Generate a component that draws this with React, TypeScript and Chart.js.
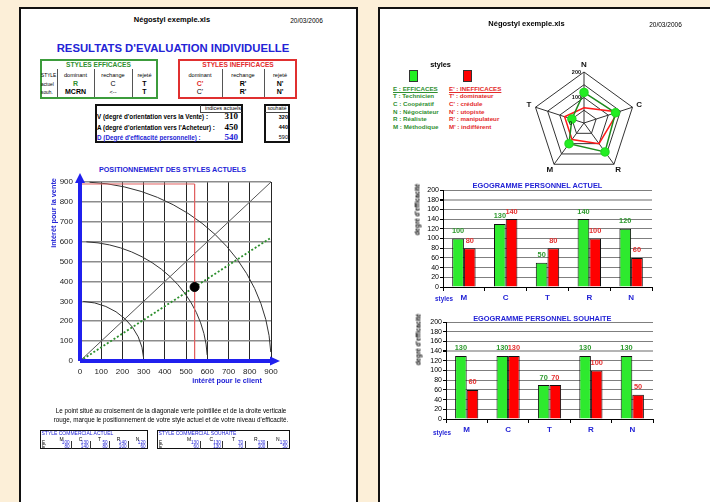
import React, { useEffect, useRef } from 'react';
import { Chart, registerables } from 'chart.js';
Chart.register(...registerables);

const FONT = '"Liberation Sans", Arial, Helvetica, sans-serif';
const SERIF = '"Liberation Serif", "Times New Roman", serif';
const BLUE = '#2323d6';
const AXIS_BLUE = '#2020ee';
const GREEN_TXT = '#2f8f2f';
const RED_TXT = '#e32a2a';
const BAR_GREEN = '#2eea2e';
const BAR_RED = '#ff0000';

// ---------------- data ----------------
const styleCats = ['M', 'C', 'T', 'R', 'N'];
const actuelE = [100, 130, 50, 140, 120];
const actuelEp = [80, 140, 80, 100, 60];
const souhaitE = [130, 130, 70, 130, 130];
const souhaitEp = [60, 130, 70, 100, 50];
const actuelHighlight = 180;
const souhaitHighlight = 140;

const radarLabels = ['N', 'C', 'R', 'M', 'T'];
const radarTickLabels = [0, 100, 200];

const indiceV = 310;
const indiceA = 450;
const indiceD = 540;
const souhaitV = 320;
const souhaitA = 440;
const souhaitD = 590;

const posMin = 0;
const posMax = 900;
const posStep = 100;
const arcRadii = [300, 600, 900];
const redFrameTop = 890;

const tableHeaders = ['dominant', 'rechange', 'rejeté'];
const effActuel = ['R', 'C', 'T'];
const effSouh = ['MCRN', '<--', 'T'];
const ineffActuel = ["C'", "R'", "N'"];
const ineffSouh = ["C'", "R'", "N'"];

const legendE = ['E : EFFICACES', 'T : Technicien', 'C : Coopératif', 'N : Négociateur', 'R : Réaliste', 'M : Méthodique'];
const legendEp = ["E' : INEFFICACES", "T' : dominateur", "C' : crédule", "N' : utopiste", "R' : manipulateur", "M' : indifférent"];

// ---------------- helpers ----------------
type TP = { x: number; y: number; s: number; t: string; w?: any; c?: string; a?: 'left' | 'center' | 'right'; f?: string; u?: boolean };
function Txt({ x, y, s, t, w = 'normal', c = '#000', a = 'left', f = FONT, u = false }: TP) {
  const h = Math.ceil(s * 1.3);
  const style: React.CSSProperties = {
    position: 'absolute', top: y - h / 2, height: h, lineHeight: `${h}px`, fontSize: s, fontFamily: f,
    fontWeight: w, color: c, whiteSpace: 'nowrap', textDecoration: u ? 'underline' : 'none',
  };
  if (a === 'left') style.left = x;
  else if (a === 'right') style.right = 710 - x;
  else { style.left = x - 200; style.width = 400; style.textAlign = 'center'; }
  return <div style={style}>{t}</div>;
}
function VTxt({ x, y, s, t, w = 'bold', c = '#000' }: TP) {
  const h = Math.ceil(s * 1.3);
  return (
    <div style={{
      position: 'absolute', left: x - 100, top: y - h / 2, width: 200, height: h, lineHeight: `${h}px`,
      textAlign: 'center', fontSize: s, fontFamily: FONT, fontWeight: w, color: c, whiteSpace: 'nowrap',
      transform: 'rotate(-90deg)',
    }}>{t}</div>
  );
}
function Rect({ l, t, w, h, b = '0', bg = 'transparent' }: { l: number; t: number; w: number; h: number; b?: string; bg?: string }) {
  return <div style={{ position: 'absolute', left: l, top: t, width: w, height: h, border: b, background: bg, boxSizing: 'border-box' }} />;
}
function VLine({ x, y1, y2, c = '#555' }: { x: number; y1: number; y2: number; c?: string }) {
  return <div style={{ position: 'absolute', left: x, top: y1, width: 1, height: y2 - y1, background: c }} />;
}
function HLine({ y, x1, x2, c = '#555' }: { y: number; x1: number; x2: number; c?: string }) {
  return <div style={{ position: 'absolute', left: x1, top: y, width: x2 - x1, height: 1, background: c }} />;
}

function ChartBox({ left, top, width, height, make }: { left: number; top: number; width: number; height: number; make: () => any }) {
  const ref = useRef<HTMLCanvasElement>(null);
  useEffect(() => {
    const c = new Chart(ref.current as HTMLCanvasElement, make());
    return () => c.destroy();
  }, []);
  return <canvas ref={ref} width={width} height={height} style={{ position: 'absolute', left, top, width, height }} />;
}

// ---------------- charts ----------------
const arcPlugin = {
  id: 'arcs',
  beforeDatasetsDraw(chart: any) {
    const { ctx } = chart;
    const x = chart.scales.x, y = chart.scales.y;
    const x0 = x.getPixelForValue(0), y0 = y.getPixelForValue(0);
    ctx.save();
    ctx.strokeStyle = '#333';
    ctx.lineWidth = 1;
    arcRadii.forEach((r) => {
      const rx = x.getPixelForValue(r) - x0;
      const ry = y0 - y.getPixelForValue(r);
      ctx.beginPath();
      ctx.ellipse(x0, y0, rx, ry, 0, -Math.PI / 2 + 0.05, -0.05);
      ctx.stroke();
    });
    ctx.restore();
  },
};
const axesPlugin = {
  id: 'blueAxes',
  afterDatasetsDraw(chart: any) {
    const { ctx, chartArea } = chart;
    const { left, right, top, bottom } = chartArea;
    ctx.save();
    ctx.strokeStyle = AXIS_BLUE;
    ctx.fillStyle = AXIS_BLUE;
    ctx.lineWidth = 4;
    ctx.beginPath();
    ctx.moveTo(left, bottom); ctx.lineTo(right, bottom);
    ctx.moveTo(left, bottom); ctx.lineTo(left, top);
    ctx.stroke();
    ctx.beginPath();
    ctx.moveTo(right - 1, bottom - 4.5); ctx.lineTo(right + 9, bottom); ctx.lineTo(right - 1, bottom + 4.5); ctx.closePath();
    ctx.fill();
    ctx.beginPath();
    ctx.moveTo(left - 5, top + 1); ctx.lineTo(left, top - 9); ctx.lineTo(left + 5, top + 1); ctx.closePath();
    ctx.fill();
    ctx.restore();
  },
};

function scatterConfig() {
  const slope = indiceV / indiceA;
  return {
    type: 'scatter',
    data: {
      datasets: [
        { data: [{ x: indiceD, y: indiceD * slope }], pointRadius: 4.5, pointBackgroundColor: '#000', pointBorderColor: '#000', showLine: false },
        { data: [{ x: 0, y: 0 }, { x: posMax, y: posMax * slope }], showLine: true, borderColor: '#2d8f2d', borderWidth: 1.8, borderDash: [2, 2], pointRadius: 0 },
        { data: [{ x: 0, y: redFrameTop }, { x: indiceD, y: redFrameTop }, { x: indiceD, y: 0 }], showLine: true, borderColor: '#e06060', borderWidth: 1, pointRadius: 0 },
        { data: [{ x: 0, y: 0 }, { x: posMax, y: posMax }], showLine: true, borderColor: '#555', borderWidth: 1, pointRadius: 0 },
      ],
    },
    options: {
      animation: false, responsive: false, devicePixelRatio: 1,
      layout: { padding: { top: 12, right: 19, left: 0, bottom: 0 } },
      plugins: { legend: { display: false }, tooltip: { enabled: false } },
      scales: {
        x: {
          type: 'linear', min: posMin, max: posMax,
          ticks: { stepSize: posStep, autoSkip: false, color: '#222', font: { family: FONT, size: 8 }, padding: 6 },
          grid: { color: '#262626', lineWidth: 1, drawTicks: false }, border: { display: false },
          afterFit: (s: any) => { s.height = 29; },
        },
        y: {
          type: 'linear', min: posMin, max: posMax,
          ticks: { stepSize: posStep, autoSkip: false, color: '#222', font: { family: FONT, size: 8 }, padding: 7 },
          grid: { color: '#8c8c8c', lineWidth: 1.5, drawTicks: false }, border: { display: false },
          afterFit: (s: any) => { s.width = 40; },
        },
      },
    },
    plugins: [arcPlugin, axesPlugin],
  };
}

const labelColors = ['#2f9a2f', '#e53030'];
const valueLabelPlugin = {
  id: 'valueLabels',
  afterDatasetsDraw(chart: any) {
    const ctx = chart.ctx;
    chart.data.datasets.forEach((ds: any, i: number) => {
      const meta = chart.getDatasetMeta(i);
      meta.data.forEach((bar: any, j: number) => {
        ctx.save();
        ctx.font = `bold 7.4px ${FONT}`;
        ctx.fillStyle = labelColors[i];
        ctx.textAlign = 'center';
        ctx.textBaseline = 'middle';
        ctx.fillText(String(ds.data[j]), bar.x, bar.y - 7.5);
        ctx.restore();
      });
    });
  },
};

function barConfig(e: number[], ep: number[], highlight: number, yWidth: number, padRight: number) {
  return {
    type: 'bar',
    data: {
      labels: styleCats,
      datasets: [
        { label: 'E', data: e, backgroundColor: BAR_GREEN, borderColor: '#111', borderWidth: 1, categoryPercentage: 0.56, barPercentage: 1 },
        { label: "E'", data: ep, backgroundColor: BAR_RED, borderColor: '#111', borderWidth: 1, categoryPercentage: 0.56, barPercentage: 1 },
      ],
    },
    options: {
      animation: false, responsive: false, devicePixelRatio: 1,
      layout: { padding: { top: 10, right: padRight, left: 0, bottom: 0 } },
      plugins: { legend: { display: false }, tooltip: { enabled: false } },
      scales: {
        x: {
          grid: { offset: true, drawOnChartArea: false, drawTicks: true, tickLength: 4, tickColor: '#000' },
          border: { color: '#000', width: 1 },
          ticks: { color: BLUE, font: { family: FONT, size: 8, weight: 'bold' }, padding: 2 },
          afterFit: (s: any) => { s.height = 18; },
        },
        y: {
          min: 0, max: 200,
          ticks: { stepSize: 20, autoSkip: false, color: '#000', font: { family: FONT, size: 7 }, padding: 1 },
          grid: {
            color: (c: any) => (c.tick && c.tick.value === highlight ? '#b4b4b4' : '#7f7f7f'),
            lineWidth: (c: any) => (c.tick && c.tick.value === highlight ? 2 : 1),
            tickLength: 3, tickColor: '#000',
          },
          border: { color: '#000', width: 1 },
          afterFit: (s: any) => { s.width = yWidth; },
        },
      },
    },
    plugins: [valueLabelPlugin],
  };
}

const radarTextPlugin = {
  id: 'radarText',
  afterDraw(chart: any) {
    const r = chart.scales.r;
    const ctx = chart.ctx;
    ctx.save();
    ctx.fillStyle = '#111';
    ctx.font = `bold 8px ${FONT}`;
    ctx.textAlign = 'center';
    ctx.textBaseline = 'middle';
    radarLabels.forEach((l, i) => {
      const p = r.getPointPosition(i, r.drawingArea + 7);
      ctx.fillText(l, p.x, p.y);
    });
    ctx.font = `bold 5.5px ${FONT}`;
    ctx.textAlign = 'right';
    radarTickLabels.forEach((v) => {
      const d = r.getDistanceFromCenterForValue(v);
      ctx.fillText(String(v), r.xCenter - (v === 0 ? 12 : 3), r.yCenter - d);
    });
    ctx.restore();
  },
};

function radarConfig() {
  const radarE = radarLabels.map((l) => actuelE[styleCats.indexOf(l)]);
  const radarEp = radarLabels.map((l) => actuelEp[styleCats.indexOf(l)]);
  return {
    type: 'radar',
    data: {
      labels: radarLabels,
      datasets: [
        { label: 'E', data: radarE, borderColor: '#1f8a1f', borderWidth: 1.5, pointRadius: 4, pointBackgroundColor: '#22ee22', pointBorderColor: '#22dd22', fill: false },
        { label: "E'", data: radarEp, borderColor: '#ff1a1a', borderWidth: 1.5, pointRadius: 0, fill: false },
      ],
    },
    options: {
      animation: false, responsive: false, devicePixelRatio: 1,
      layout: { padding: 19 },
      plugins: { legend: { display: false }, tooltip: { enabled: false } },
      elements: { line: { tension: 0 } },
      scales: {
        r: {
          min: 0, max: 200,
          ticks: { stepSize: 50, display: false },
          pointLabels: { display: false },
          grid: { color: '#333', lineWidth: 1 },
          angleLines: { color: '#333', lineWidth: 1 },
        },
      },
    },
    plugins: [radarTextPlugin],
  };
}

// ---------------- small tables ----------------
function SmallTable({ left, width, labelW, title, e, ep }: { left: number; width: number; labelW: number; title: string; e: number[]; ep: number[] }) {
  const colW = (width - labelW - 1) / 5;
  const top = 430;
  return (
    <>
      <Rect l={left} t={top} w={width} h={19} b="1.5px solid #111" />
      <Txt x={left + 1.5} y={433} s={5} t={title} c={BLUE} />
      {styleCats.map((c, i) => (
        <Txt key={'h' + i} x={left + labelW + colW * (i + 0.5)} y={439} s={5} t={c} a="center" />
      ))}
      <Txt x={left + 2} y={443} s={4.6} t="E" />
      <Txt x={left + 2} y={446.8} s={4.6} t="E'" />
      {e.map((v, i) => (
        <Txt key={'e' + i} x={left + labelW + colW * (i + 1) - 1.5} y={443} s={4.6} t={String(v)} c={BLUE} a="right" />
      ))}
      {ep.map((v, i) => (
        <Txt key={'p' + i} x={left + labelW + colW * (i + 1) - 1.5} y={446.8} s={4.6} t={String(v)} c={BLUE} a="right" />
      ))}
      {styleCats.slice(0, 4).map((_, i) => (
        <VLine key={'v' + i} x={Math.round(left + labelW + colW * (i + 1))} y1={441} y2={448.5} c="#333" />
      ))}
    </>
  );
}

export default function App() {
  return (
    <div style={{ position: 'fixed', left: 0, top: 0, width: 710, height: 502, overflow: 'hidden', background: '#fcefd8', fontFamily: FONT }}>
      {/* ---------- left page ---------- */}
      <Rect l={19} t={7} w={339} h={520} b="2px solid #111" bg="#fff" />
      <Txt x={172} y={20} s={7.5} t="Négostyl exemple.xls" w="bold" a="center" />
      <Txt x={306.5} y={20} s={6.5} t="20/03/2006" a="center" />
      <Txt x={173} y={48} s={11.3} t="RESULTATS D'EVALUATION INDIVIDUELLE" w="bold" c={BLUE} a="center" />

      {/* styles efficaces */}
      <Rect l={40} t={59} w={118} h={40} b="2px solid #3c9c3c" />
      <Txt x={98.5} y={64.5} s={6.6} t="STYLES EFFICACES" w="bold" c={GREEN_TXT} a="center" />
      <VLine x={57} y1={69} y2={97} />
      <VLine x={94} y1={69} y2={97} />
      <VLine x={132} y1={69} y2={97} />
      <Txt x={41} y={75} s={4.8} t="STYLE" />
      <Txt x={41} y={84} s={4.8} t="actuel" />
      <Txt x={41} y={92} s={4.8} t="souh." />
      {tableHeaders.map((h, i) => (
        <Txt key={'gh' + i} x={[75.5, 113, 144.5][i]} y={75} s={5.6} t={h} a="center" />
      ))}
      {effActuel.map((v, i) => (
        <Txt key={'ga' + i} x={[75.5, 113, 144.5][i]} y={84} s={7} t={v} w={i === 1 ? 'normal' : 'bold'} c={i === 0 ? GREEN_TXT : '#000'} a="center" />
      ))}
      {effSouh.map((v, i) => (
        <Txt key={'gs' + i} x={[75.5, 113, 144.5][i]} y={92} s={i === 1 ? 5.6 : 7} t={v} w={i === 1 ? 'normal' : 'bold'} a="center" />
      ))}

      {/* styles inefficaces */}
      <Rect l={178} t={59} w={119} h={40} b="2px solid #e03030" />
      <Txt x={238} y={64.5} s={6.6} t="STYLES INEFFICACES" w="bold" c={RED_TXT} a="center" />
      <VLine x={222} y1={69} y2={97} />
      <VLine x={264} y1={69} y2={97} />
      {tableHeaders.map((h, i) => (
        <Txt key={'rh' + i} x={[200, 243, 280][i]} y={75} s={5.6} t={h} a="center" />
      ))}
      {ineffActuel.map((v, i) => (
        <Txt key={'ra' + i} x={[200, 243, 280][i]} y={84} s={7} t={v} w="bold" c={i === 0 ? RED_TXT : '#000'} a="center" />
      ))}
      {ineffSouh.map((v, i) => (
        <Txt key={'rs' + i} x={[200, 243, 280][i]} y={92} s={7} t={v} w={i === 0 ? 'normal' : 'bold'} a="center" />
      ))}

      {/* indices */}
      <Rect l={95} t={104} w={148} h={39} b="2px solid #111" />
      <VLine x={200} y1={105} y2={112} c="#444" />
      <HLine y={112} x1={200} x2={242} c="#444" />
      <Txt x={241} y={108} s={5.5} t="indices actuels" a="right" />
      <Txt x={97} y={116.3} s={6.3} t="V (degré d'orientation vers la Vente) :" w="bold" />
      <Txt x={97} y={127} s={6.3} t="A (degré d'orientation vers l'Acheteur) :" w="bold" />
      <Txt x={97} y={137} s={6.3} t="D (Degré d'efficacité personnelle) :" w="bold" c={BLUE} />
      <Txt x={238} y={116} s={9} t={String(indiceV)} w="bold" f={SERIF} a="right" />
      <Txt x={238} y={126.5} s={9} t={String(indiceA)} w="bold" f={SERIF} a="right" />
      <Txt x={238} y={136.5} s={9} t={String(indiceD)} w="bold" f={SERIF} c={BLUE} a="right" />
      <Rect l={264} t={104} w={26} h={39} b="2px solid #111" />
      <HLine y={112} x1={265} x2={288} c="#444" />
      <Txt x={277} y={108} s={5} t="souhaité" a="center" />
      <Txt x={288} y={117} s={5.5} t={String(souhaitV)} w="bold" a="right" />
      <Txt x={288} y={127} s={5.5} t={String(souhaitA)} w="bold" a="right" />
      <Txt x={288} y={137} s={5.5} t={String(souhaitD)} a="right" />

      {/* positioning chart */}
      <Txt x={172.5} y={169.5} s={7.2} t="POSITIONNEMENT DES STYLES ACTUELS" w="bold" c={BLUE} a="center" />
      <ChartBox left={40} top={170} width={250} height={220} make={scatterConfig} />
      <VTxt x={53.5} y={212.5} s={7.3} t="intérêt pour la vente" c={BLUE} />
      <Txt x={227} y={381} s={7.3} t="intérêt pour le client" w="bold" c={BLUE} a="center" />

      <Txt x={171} y={410.7} s={6.3} t="Le point situé au croisement de la diagonale verte pointillée et de la droite  verticale" a="center" />
      <Txt x={171} y={419} s={6.3} t="rouge, marque le positionnement de votre style actuel et de votre niveau d'efficacité." a="center" />

      <SmallTable left={40} width={108} labelW={12} title="STYLE COMMERCIAL ACTUEL" e={actuelE} ep={actuelEp} />
      <SmallTable left={157} width={133} labelW={21} title="STYLE COMMERCIAL SOUHAITE" e={souhaitE} ep={souhaitEp} />

      {/* ---------- right page ---------- */}
      <Rect l={378} t={7} w={400} h={520} b="2px solid #111" bg="#fff" />
      <Txt x={526.5} y={24} s={7.5} t="Négostyl exemple.xls" w="bold" a="center" />
      <Txt x={665.5} y={24} s={6.5} t="20/03/2006" a="center" />

      <Txt x={440.5} y={64.5} s={7.3} t="styles" w="bold" a="center" />
      <Rect l={409} t={70} w={9} h={12} b="1px solid #333" bg="#22ee22" />
      <Rect l={463} t={70} w={9} h={12} b="1px solid #333" bg="#ff0000" />
      {legendE.map((t, i) => (
        <Txt key={'le' + i} x={393} y={88 + i * 7.7} s={6.2} t={t} w="bold" c={GREEN_TXT} u={i === 0} />
      ))}
      {legendEp.map((t, i) => (
        <Txt key={'lp' + i} x={449} y={88 + i * 7.7} s={6.2} t={t} w="bold" c={RED_TXT} u={i === 0} />
      ))}

      <ChartBox left={514} top={53} width={140} height={140} make={radarConfig} />

      <Txt x={537.5} y={186} s={7.4} t="EGOGRAMME PERSONNEL ACTUEL" w="bold" c={BLUE} a="center" />
      <ChartBox left={400} top={180} width={258} height={125} make={() => barConfig(actuelE, actuelEp, actuelHighlight, 43, 6)} />
      <VTxt x={417} y={209} s={6.3} t="degré d'efficacité" />
      <Txt x={444} y={298.5} s={6.3} t="styles" w="bold" c={BLUE} a="center" />

      <Txt x={542.3} y={319} s={7.4} t="EGOGRAMME PERSONNEL SOUHAITE" w="bold" c={BLUE} a="center" />
      <ChartBox left={400} top={312} width={258} height={125} make={() => barConfig(souhaitE, souhaitEp, souhaitHighlight, 46, 5)} />
      <VTxt x={418} y={339.5} s={6.3} t="degré d'efficacité" />
      <Txt x={442} y={432} s={6.3} t="styles" w="bold" c={BLUE} a="center" />
    </div>
  );
}
